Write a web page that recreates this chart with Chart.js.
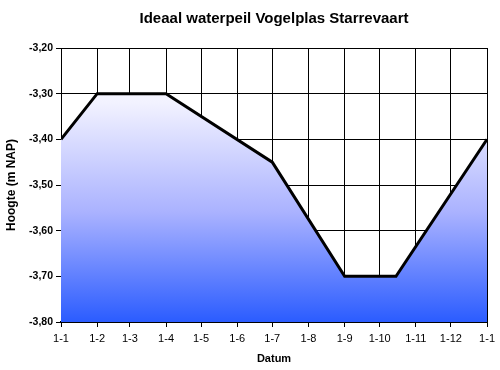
<!DOCTYPE html>
<html lang="nl">
<head>
    <meta charset="UTF-8">
    <title>Ideaal waterpeil Vogelplas Starrevaart</title>
    <script src="https://cdn.jsdelivr.net/npm/chart.js"></script>
    <style>
        body { margin: 0; background: #fff; }
        #wrap { width: 500px; height: 370px; }
    </style>
</head>
<body>
    <div id="wrap"><canvas id="peilChart" width="500" height="370"></canvas></div>

    <script>
        // maandlabels en dagnummers (datum-as, dagen vanaf 1 jan)
        const monthLabels = ['1-1', '1-2', '1-3', '1-4', '1-5', '1-6', '1-7', '1-8', '1-9', '1-10', '1-11', '1-12', '1-1'];
        const monthDays = [0, 31, 59, 90, 120, 151, 181, 212, 243, 273, 304, 334, 365];

        // ideaal peil per datum
        const pointDays = [0, 31, 90, 181, 243, 287, 365];
        const levels = [-3.40, -3.30, -3.30, -3.45, -3.70, -3.70, -3.40];

        const font = 'Liberation Sans, Arial, sans-serif';

        function blueFill(context) {
            const area = context.chart.chartArea;
            if (!area) return '#8899ff';
            const g = context.chart.ctx.createLinearGradient(0, area.top, 0, area.bottom);
            g.addColorStop(0, '#ffffff');
            g.addColorStop(0.2, '#f2f2ff');
            g.addColorStop(0.6, '#aab2ff');
            g.addColorStop(1, '#2b5cff');
            return g;
        }

        const ctx = document.getElementById('peilChart').getContext('2d');
        new Chart(ctx, {
            type: 'line',
            data: {
                datasets: [{
                    data: pointDays.map((d, i) => ({ x: d, y: levels[i] })),
                    borderColor: '#000',
                    borderWidth: 3,
                    backgroundColor: blueFill,
                    fill: 'start',
                    tension: 0,
                    pointRadius: 0
                }]
            },
            options: {
                responsive: false,
                animation: false,
                layout: { padding: { left: 0, right: 11, top: 0, bottom: 0 } },
                plugins: {
                    legend: { display: false },
                    tooltip: { enabled: false },
                    title: {
                        display: true,
                        text: 'Ideaal waterpeil Vogelplas Starrevaart',
                        fullSize: false,
                        color: '#000',
                        font: { family: font, size: 15, weight: 'bold' },
                        padding: { top: 10, bottom: 20 }
                    }
                },
                scales: {
                    x: {
                        type: 'linear',
                        min: 0,
                        max: 365,
                        afterBuildTicks: s => { s.ticks = monthDays.map(v => ({ value: v })); },
                        afterFit: s => { s.height = 48; },
                        ticks: {
                            autoSkip: false,
                            maxRotation: 0,
                            color: '#000',
                            padding: 5,
                            font: { family: font, size: 11 },
                            callback: (v, i) => monthLabels[i]
                        },
                        grid: { color: '#000', lineWidth: 1, tickLength: 5 },
                        border: { color: '#000', width: 2 },
                        title: {
                            display: true,
                            text: 'Datum',
                            color: '#000',
                            font: { family: font, size: 11, weight: 'bold' },
                            padding: { top: 2, bottom: 4 }
                        }
                    },
                    y: {
                        min: -3.8,
                        max: -3.2,
                        afterFit: s => { s.width = 61; },
                        ticks: {
                            stepSize: 0.1,
                            color: '#000',
                            padding: 3,
                            font: { family: font, size: 10.5, weight: 'bold' },
                            callback: v => v.toFixed(2).replace('.', ',')
                        },
                        grid: { color: '#000', lineWidth: 1, tickLength: 5 },
                        border: { color: '#000', width: 1 },
                        title: {
                            display: true,
                            text: 'Hoogte (m NAP)',
                            color: '#000',
                            font: { family: font, size: 12, weight: 'bold' },
                            padding: { top: 4, bottom: 4 }
                        }
                    }
                }
            }
        });
    </script>
</body>
</html>
